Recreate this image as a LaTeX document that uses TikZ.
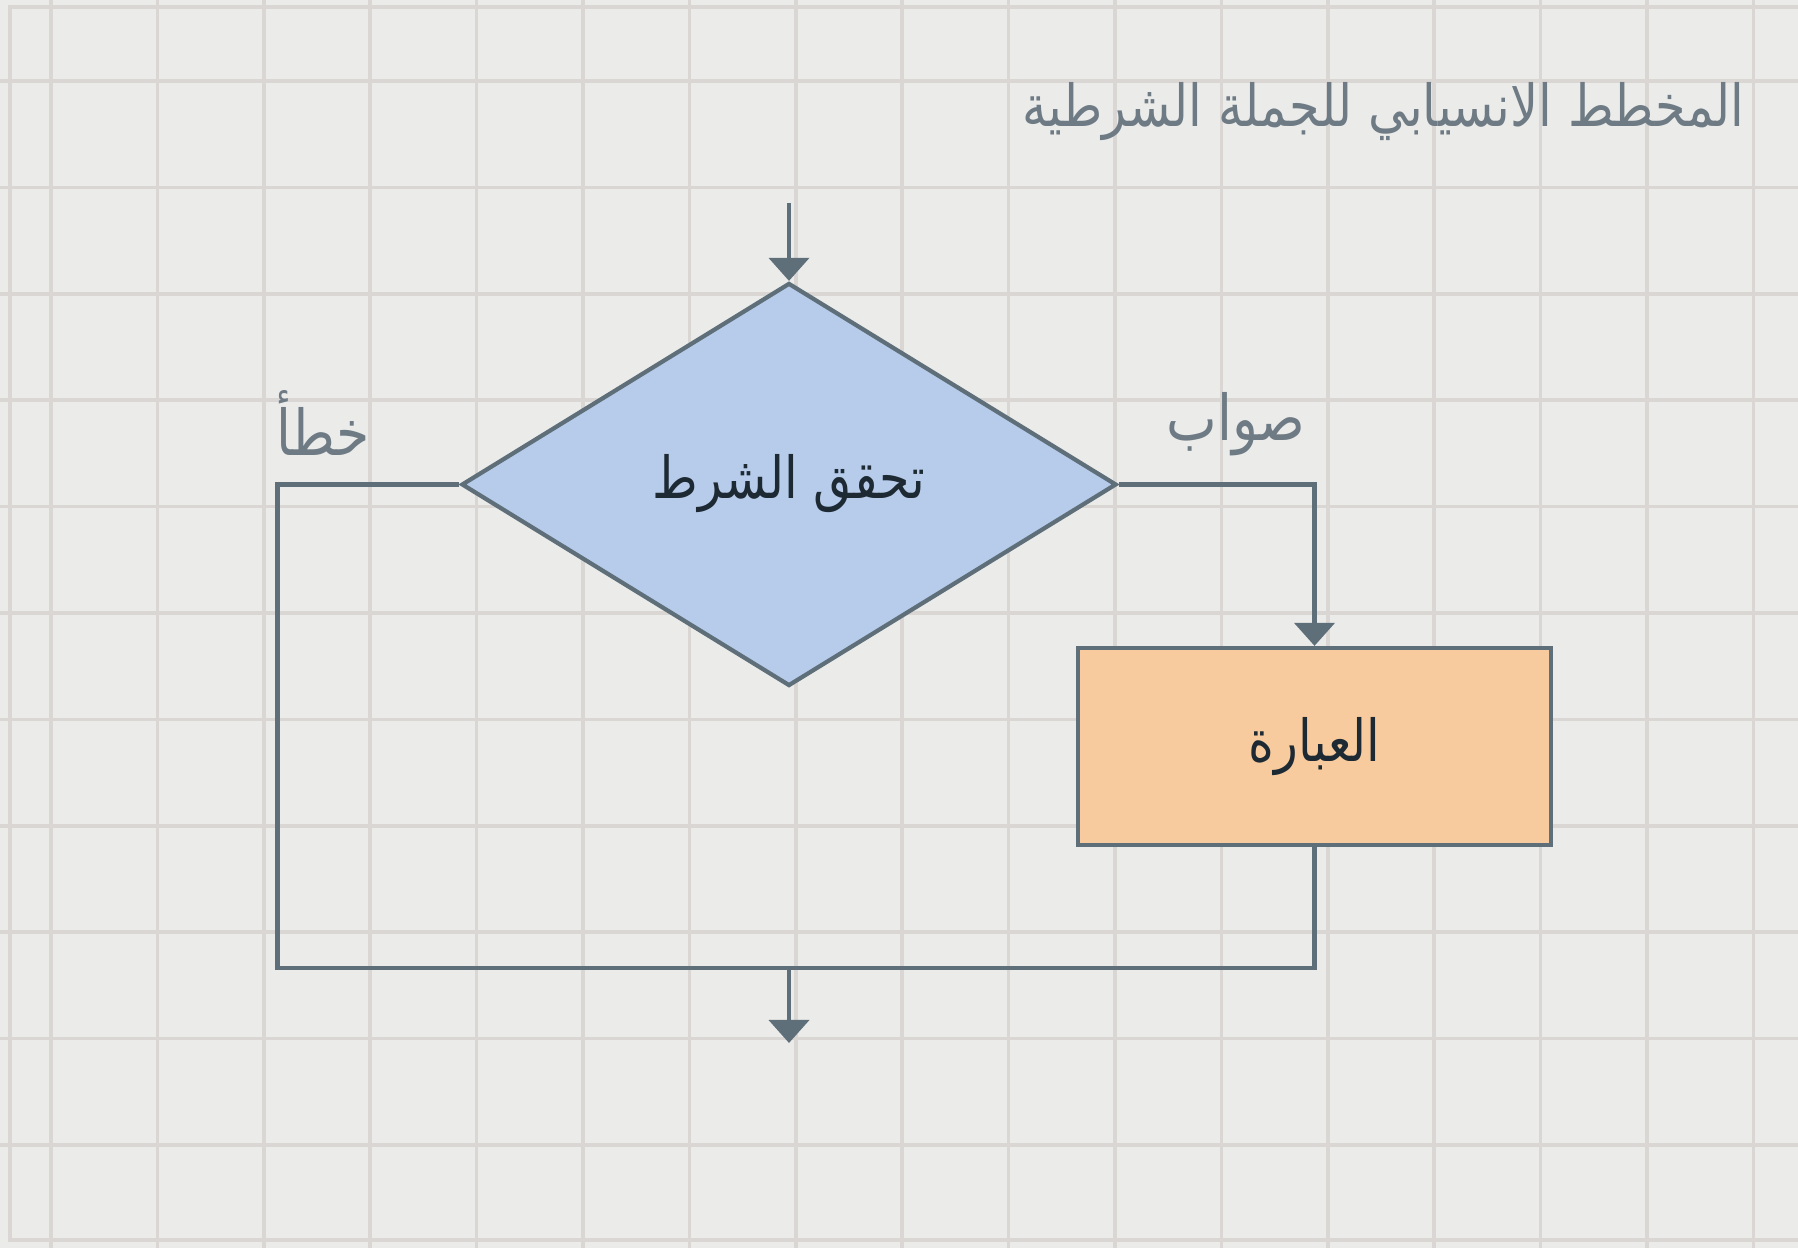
\documentclass[tikz,border=0pt]{standalone}
\usepackage{fontspec}
\usepackage{xcolor}
\usepackage{tikz}
\usetikzlibrary{arrows.meta,shapes.geometric,calc}
\TeXXeTstate=1
\newfontfamily\arabicfont[Script=Arabic,FakeStretch=0.85]{DejaVu Sans}
\definecolor{paper}{HTML}{EBEBEA}
\definecolor{gridline}{HTML}{DAD6D4}
\definecolor{slate}{HTML}{5F6F79}
\definecolor{labelgray}{HTML}{6E7B84}
\definecolor{inktext}{HTML}{1E2A33}
\definecolor{condblue}{HTML}{B6CCEA}
\definecolor{stmtpeach}{HTML}{F8CB9E}

\begin{document}
\begin{tikzpicture}[
  condbox/.style={diamond,draw=slate,fill=condblue,line width=1.2pt,inner sep=0pt,
               minimum width=6.55cm,minimum height=4.03cm,shape aspect=1.63,
               font=\arabicfont\fontsize{16.5}{20}\selectfont,text=inktext},
  stmtbox/.style={rectangle,draw=slate,fill=stmtpeach,line width=1.2pt,
               minimum width=4.73cm,minimum height=1.97cm,
               font=\arabicfont\fontsize{16.5}{20}\selectfont,text=inktext},
  branchlabel/.style={font=\arabicfont\fontsize{18}{22}\selectfont,text=labelgray},
  flow/.style={line width=1.2pt,draw=slate},
  arr/.style={flow,-{Triangle[width=4mm,length=2.3mm]}}
]
\useasboundingbox (0,0) rectangle (17.98,12.48);
\fill[paper] (0,0) rectangle (17.98,12.48);
\foreach \gx in {0,...,16}
  \draw[gridline,line width=1pt] ({0.51+1.064*\gx},0) -- ({0.51+1.064*\gx},12.48);
\foreach \gy in {0,...,10}
  \draw[gridline,line width=1pt] (0,{11.67-1.064*\gy}) -- (17.98,{11.67-1.064*\gy});
\draw[gridline,line width=1pt] (17.98,12.41) -- (0.10,12.41) -- (0.10,0.08) -- (17.98,0.08);

\node[branchlabel,font=\arabicfont\fontsize{16.5}{20}\selectfont,anchor=east,inner sep=0pt] (title) at (17.45,11.36) {\beginR المخطط الانسيابي للجملة الشرطية\endR};
\node[condbox] (cond) at (7.89,7.635) {\raisebox{-1.4mm}[0pt][0pt]{\beginR تحقق الشرط\endR}};
\node[stmtbox] (stmt) at (13.145,5.015) {\beginR العبارة\endR};
\node[branchlabel] (falselbl) at (3.23,8.25) {\beginR خطأ\endR};
\node[branchlabel] (truelbl) at (12.36,8.24) {\beginR صواب\endR};
\coordinate (entry) at (7.89,10.45);
\coordinate (falsecorner) at (2.775,2.80);
\coordinate (join) at (7.89,2.80);
\coordinate (exit) at (7.89,2.05);

\draw[arr] (entry) -- (cond.north);
\draw[arr] (cond.east) -| (stmt.north);
\draw[flow] (cond.west) -| (falsecorner) -| (stmt.south);
\draw[arr] (join) -- (exit);
\end{tikzpicture}
\end{document}
